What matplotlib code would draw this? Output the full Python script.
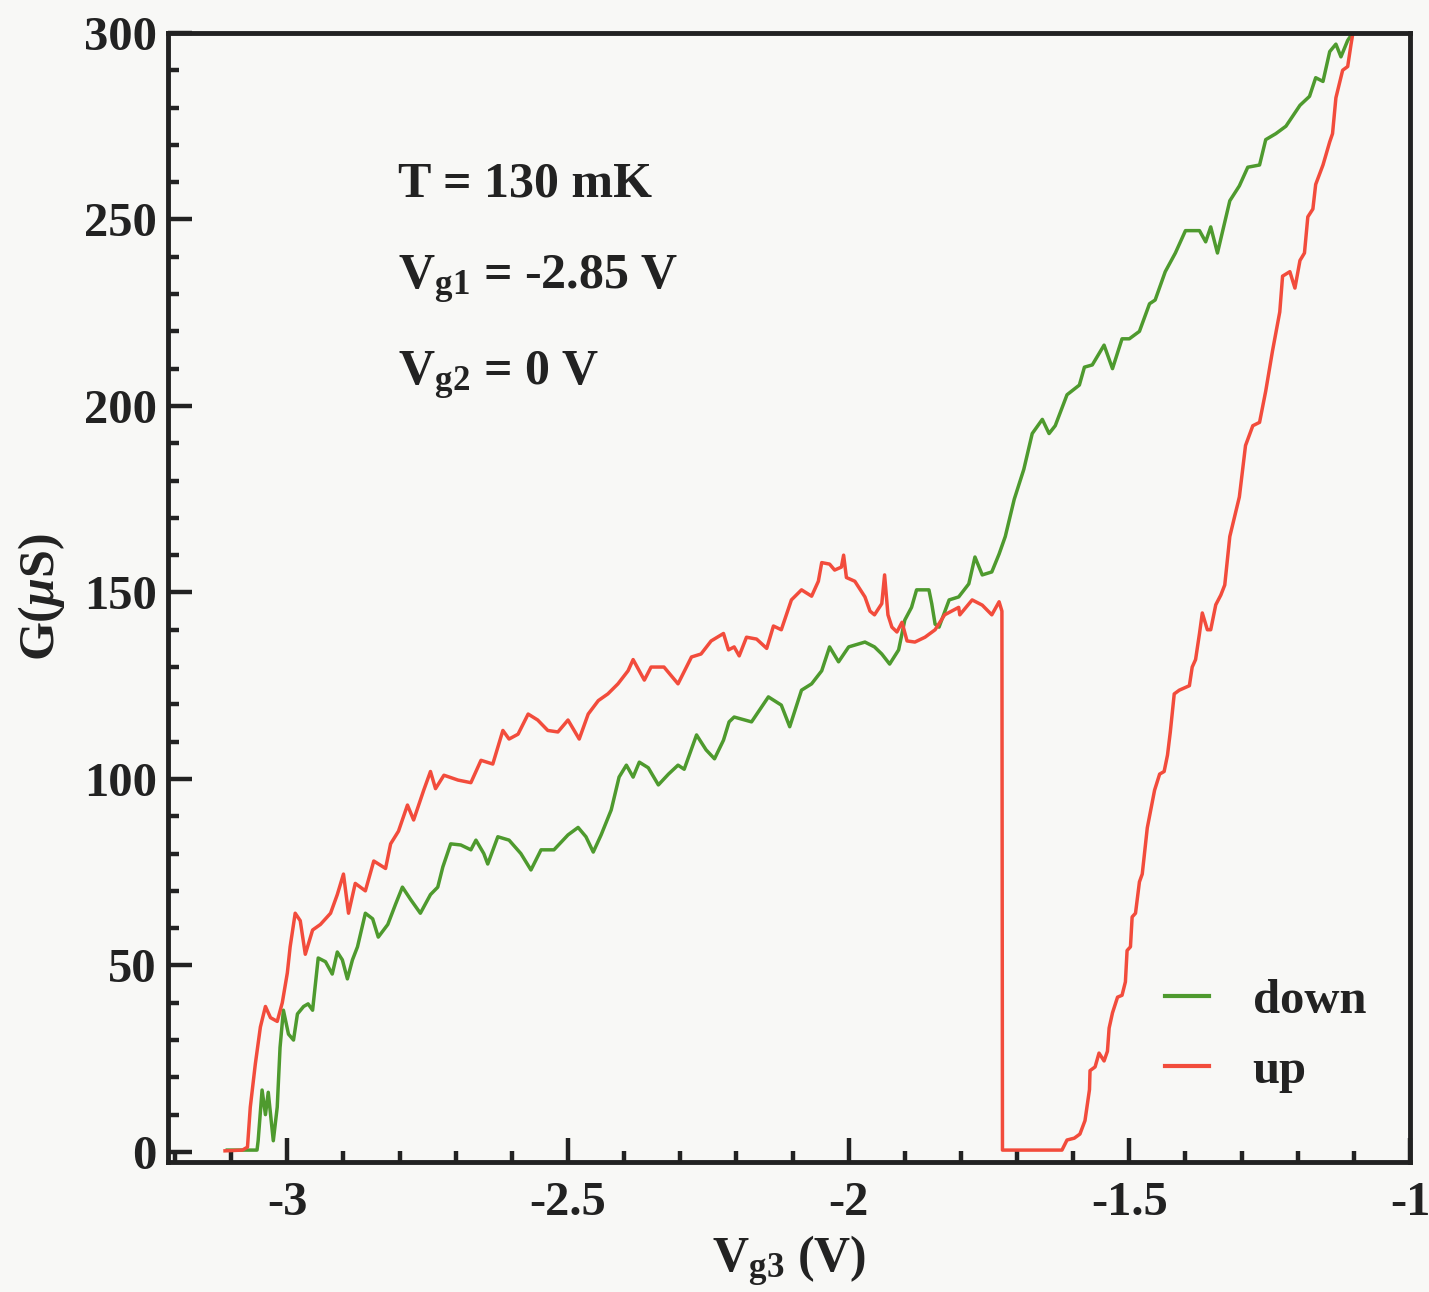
import numpy as np
import matplotlib
matplotlib.use("Agg")
import matplotlib.pyplot as plt
from matplotlib.ticker import MultipleLocator

# G(uS) vs Vg3 sweep
down_v = [-3.107, -3.054, -3.052, -3.045, -3.039, -3.034, -3.025, -3.018, -3.013, -3.007,
          -2.998, -2.989, -2.982, -2.971, -2.963, -2.955, -2.945, -2.932, -2.920, -2.911,
          -2.902, -2.893, -2.884, -2.875, -2.861, -2.848, -2.838, -2.821, -2.807, -2.795,
          -2.780, -2.763, -2.745, -2.732, -2.723, -2.709, -2.691, -2.673, -2.664, -2.650,
          -2.643, -2.625, -2.605, -2.584, -2.566, -2.548, -2.525, -2.500, -2.482, -2.468,
          -2.455, -2.441, -2.423, -2.409, -2.396, -2.384, -2.373, -2.357, -2.339, -2.321,
          -2.304, -2.293, -2.271, -2.254, -2.239, -2.223, -2.213, -2.204, -2.173, -2.143,
          -2.120, -2.105, -2.084, -2.066, -2.048, -2.034, -2.018, -2.000, -1.971, -1.954,
          -1.941, -1.927, -1.911, -1.900, -1.888, -1.879, -1.857, -1.852, -1.846, -1.839,
          -1.821, -1.804, -1.786, -1.775, -1.762, -1.745, -1.732, -1.721, -1.705, -1.688,
          -1.673, -1.655, -1.643, -1.632, -1.611, -1.589, -1.580, -1.566, -1.545, -1.530,
          -1.513, -1.500, -1.482, -1.464, -1.454, -1.436, -1.418, -1.400, -1.375, -1.364,
          -1.355, -1.343, -1.321, -1.304, -1.289, -1.268, -1.257, -1.239, -1.221, -1.196,
          -1.179, -1.168, -1.155, -1.143, -1.132, -1.123, -1.111, -1.102]
down_g = [0.5, 0.5, 3, 16.6, 10, 16, 3, 12, 28, 38,
          31.6, 30, 37, 39, 39.7, 38, 52, 51, 47.7, 53.6,
          51.5, 46.4, 51.5, 55, 64, 62.5, 57.6, 61, 66.5, 71,
          67.6, 64, 69, 71, 76.4, 82.6, 82.3, 81, 83.6, 80,
          77.2, 84.5, 83.6, 80, 75.6, 81, 81, 85, 87, 84.5,
          80.4, 85, 91.7, 100.5, 103.7, 100.5, 104.5, 103, 98.4, 101.3,
          103.7, 102.6, 111.8, 107.8, 105.4, 110.4, 115.3, 116.6, 115.3, 122,
          119.8, 114, 123.8, 125.5, 129, 135.4, 131.4, 135.4, 136.7, 135.4,
          133.5, 130.8, 134.6, 142.6, 146, 150.7, 150.7, 147, 141.5, 140.7,
          148, 148.8, 152.3, 159.5, 154.7, 155.5, 160.3, 165, 175, 183,
          192.6, 196.4, 192.6, 194.7, 203, 205.6, 210.4, 211, 216.3, 210,
          218, 218, 220, 227.4, 228.4, 236, 241, 247, 247, 244,
          248, 241, 255, 259, 264, 264.6, 271.4, 273, 275, 280.6,
          283, 288, 287, 295, 297, 293.6, 298, 300]

up_v = [-3.111, -3.080, -3.071, -3.066, -3.057, -3.048, -3.039, -3.030, -3.018, -3.009,
        -3.000, -2.995, -2.986, -2.977, -2.968, -2.955, -2.941, -2.923, -2.911, -2.900,
        -2.891, -2.879, -2.861, -2.846, -2.825, -2.816, -2.802, -2.786, -2.775, -2.757,
        -2.745, -2.736, -2.721, -2.696, -2.673, -2.655, -2.634, -2.616, -2.605, -2.589,
        -2.571, -2.554, -2.536, -2.518, -2.500, -2.480, -2.464, -2.446, -2.429, -2.411,
        -2.393, -2.384, -2.364, -2.352, -2.329, -2.304, -2.280, -2.263, -2.245, -2.223,
        -2.214, -2.204, -2.195, -2.182, -2.164, -2.146, -2.134, -2.120, -2.102, -2.084,
        -2.066, -2.054, -2.048, -2.034, -2.025, -2.013, -2.009, -2.004, -1.989, -1.971,
        -1.962, -1.954, -1.941, -1.936, -1.930, -1.923, -1.914, -1.905, -1.896, -1.882,
        -1.864, -1.846, -1.829, -1.804, -1.802, -1.780, -1.762, -1.745, -1.732, -1.727,
        -1.726, -1.620, -1.611, -1.598, -1.588, -1.579, -1.571, -1.570, -1.561, -1.554,
        -1.545, -1.539, -1.536, -1.530, -1.521, -1.513, -1.507, -1.504, -1.498, -1.495,
        -1.489, -1.482, -1.477, -1.468, -1.464, -1.455, -1.446, -1.438, -1.432, -1.427,
        -1.420, -1.411, -1.393, -1.388, -1.382, -1.375, -1.370, -1.361, -1.355, -1.346,
        -1.337, -1.330, -1.321, -1.304, -1.293, -1.280, -1.268, -1.257, -1.245, -1.232,
        -1.227, -1.214, -1.205, -1.196, -1.188, -1.182, -1.173, -1.168, -1.155, -1.143,
        -1.138, -1.132, -1.120, -1.111, -1.105, -1.102]
up_g = [0.3, 0.5, 1.3, 12, 23.6, 33.5, 39, 36, 35, 40,
        48, 55, 64, 62, 53, 59.5, 61, 64, 69, 74.5,
        64, 72, 70, 78, 76, 82.6, 86, 93, 89, 97,
        102, 97.4, 101, 99.7, 99, 105, 104, 113, 110.7, 112,
        117.4, 115.8, 113, 112.6, 115.8, 110.7, 117.4, 121, 122.8, 125.5,
        129, 132, 126.5, 130, 130, 125.5, 132.7, 133.5, 137, 139,
        134.6, 135.4, 133, 138, 137.5, 135, 141, 140, 148, 150.7,
        149, 153, 158, 157.6, 156, 156.8, 160, 154, 153, 148.8,
        145, 144, 147, 154.7, 144, 140.7, 139.4, 142, 137, 136.7,
        138, 140, 144, 146, 144, 148, 146.6, 144, 147.5, 145,
        0.5, 0.5, 3.2, 3.7, 4.8, 8.4, 16.7, 21.8, 22.8, 26.5,
        24.4, 27, 33.2, 37.3, 41.5, 42, 45.6, 54, 55, 63,
        64, 72.4, 74.5, 86.9, 90, 97, 101.3, 102, 106.4, 112.6,
        122.8, 123.8, 125, 130, 132, 139, 144.5, 140, 140, 146.7,
        149.3, 152, 165, 175.6, 189.4, 194.7, 195.6, 204, 214.7, 225.2,
        234.8, 236, 231.6, 239, 241, 250.7, 252.8, 259.4, 264.6, 270.8,
        273, 282.6, 290, 291, 297, 299.7]

notes = [r"T = 130 mK", r"$\mathrm{V_{g1}}$ = -2.85 V", r"$\mathrm{V_{g2}}$ = 0 V"]

plt.rcParams["font.family"] = ["Liberation Serif", "DejaVu Serif"]
plt.rcParams["font.weight"] = "bold"
plt.rcParams["axes.labelweight"] = "bold"
plt.rcParams["mathtext.fontset"] = "custom"
plt.rcParams["mathtext.rm"] = "Liberation Serif:bold"
plt.rcParams["mathtext.it"] = "Liberation Serif:italic:bold"
plt.rcParams["mathtext.bf"] = "Liberation Serif:bold"

ink = "#222222"
green = "#4e9a2e"
red = "#f24c3c"

fig = plt.figure(figsize=(14.29, 12.92), dpi=100, facecolor="#f8f8f6")
ax = fig.add_axes([0.1176, 0.1006, 0.8691, 0.8739])
ax.set_facecolor("#f8f8f6")

ax.plot(down_v, down_g, color=green, lw=2.5, label="down")
ax.plot(up_v, up_g, color=red, lw=2.5, label="up")

ax.set_xlim(-3.2125, -1.0)
ax.set_ylim(-2.7, 300)
ax.xaxis.set_major_locator(MultipleLocator(0.5))
ax.xaxis.set_minor_locator(MultipleLocator(0.1))
ax.yaxis.set_major_locator(MultipleLocator(50))
ax.yaxis.set_minor_locator(MultipleLocator(10))
ax.set_xticks([-3, -2.5, -2, -1.5, -1])
ax.set_xticklabels(["-3", "-2.5", "-2", "-1.5", "-1"])

for s in ax.spines.values():
    s.set_linewidth(3.5)
    s.set_color(ink)
ax.tick_params(which="both", direction="in", top=False, right=False, color=ink,
               labelcolor=ink, labelsize=35)
ax.tick_params(which="major", length=17, width=3.2)
ax.tick_params(which="minor", length=8, width=3.2)
ax.tick_params(axis="x", which="major", pad=14)
ax.tick_params(axis="y", which="major", pad=8)

ax.set_xlabel(r"$\mathrm{V_{g3}}$ (V)", fontsize=36, fontweight="bold", color=ink, labelpad=6)
ax.set_ylabel(r"G($\mu$S)", fontsize=36, fontweight="bold", color=ink, labelpad=12)

for i, t in enumerate(notes):
    ax.text(0.185, 0.866 - i * 0.085, t, transform=ax.transAxes, fontsize=36,
            color=ink, ha="left", va="center")

leg = ax.legend(loc="lower right", bbox_to_anchor=(1.0, 0.022), frameon=False,
                fontsize=35, handlelength=0.9, handletextpad=0.9, labelspacing=0.55)
for line in leg.get_lines():
    line.set_linewidth(3)
for txt in leg.get_texts():
    txt.set_color(ink)

fig.savefig("out.png", dpi=100, facecolor=fig.get_facecolor())
